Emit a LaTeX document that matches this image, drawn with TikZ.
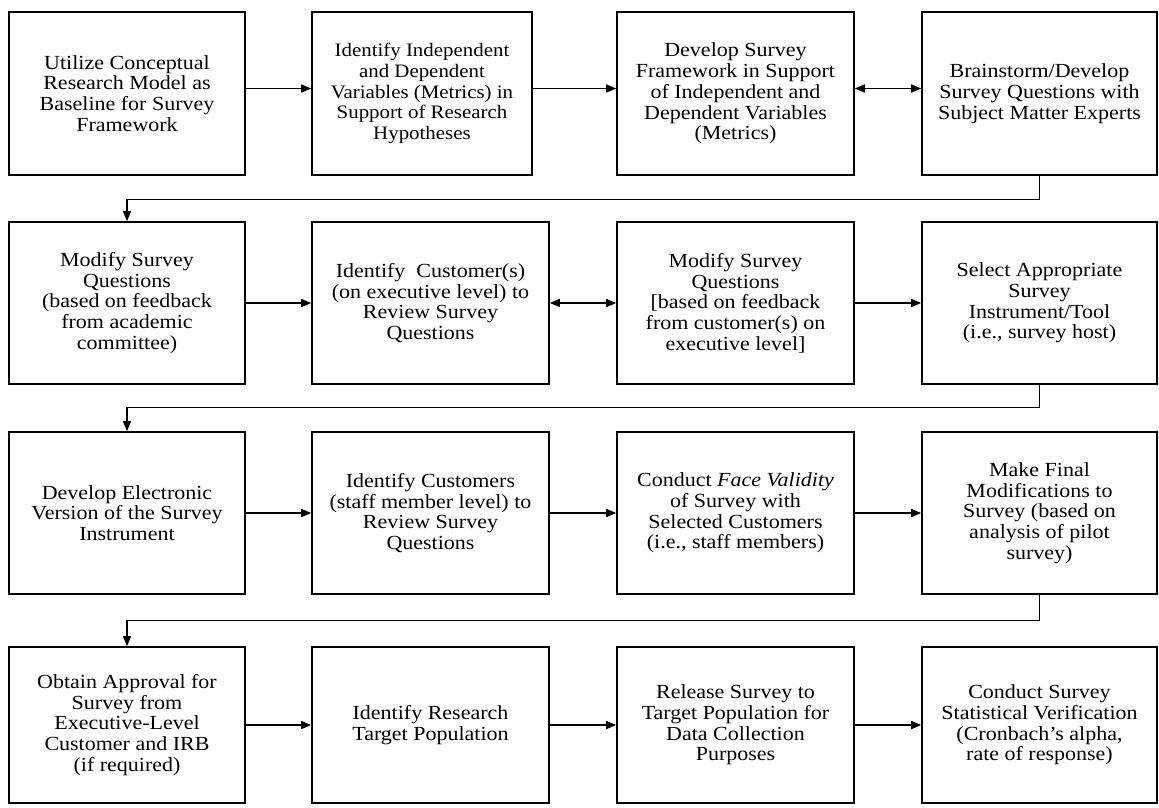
\documentclass[tikz,border=0pt]{standalone}
\usepackage{fontspec}
\setmainfont{Liberation Serif}[FakeStretch=1.1]
\usetikzlibrary{arrows.meta}
\begin{document}
\begin{tikzpicture}[x=1pt,y=-1pt,
  stepbox/.style={draw=black, line width=1.6pt, align=center, inner sep=2pt,
    font=\fontsize{20}{20.7}\selectfont},
  flow/.style={line width=1.5pt, -{Triangle[length=10pt,width=8pt]}},
  twoway/.style={line width=1.5pt, {Triangle[length=10pt,width=8pt]}-{Triangle[length=10pt,width=8pt]}},
  link/.style={line width=1.3pt, -{Triangle[length=10pt,width=8pt]}}]
\fill[white] (0,0) rectangle (1159,807);
\useasboundingbox (0,0) rectangle (1159,807);

% row 1
\node[stepbox, minimum width=236pt, minimum height=163pt] (b1) at (127,93.5)
  {Utilize Conceptual\\Research Model as\\Baseline for Survey\\Framework};
\node[stepbox, minimum width=220pt, minimum height=163pt,
      font=\fontsize{19}{20.7}\selectfont] (b2) at (422,93.5)
  {Identify Independent\\and Dependent\\Variables (Metrics) in\\Support of Research\\Hypotheses};
\node[stepbox, minimum width=237pt, minimum height=163pt] (b3) at (735.5,93.5)
  {Develop Survey\\Framework in Support\\of Independent and\\Dependent Variables\\(Metrics)};
\node[stepbox, minimum width=235pt, minimum height=163pt] (b4) at (1039.5,93.5)
  {Brainstorm/Develop\\Survey Questions with\\Subject Matter Experts};

% row 2
\node[stepbox, minimum width=236pt, minimum height=162pt] (b5) at (127,303)
  {Modify Survey\\Questions\\(based on feedback\\from academic\\committee)};
\node[stepbox, minimum width=237pt, minimum height=162pt] (b6) at (430.5,303)
  {Identify\ \ Customer(s)\\(on executive level) to\\Review Survey\\Questions};
\node[stepbox, minimum width=237pt, minimum height=162pt] (b7) at (735.5,303)
  {Modify Survey\\Questions\\{[}based on feedback\\from customer(s) on\\executive level]};
\node[stepbox, minimum width=235pt, minimum height=162pt] (b8) at (1039.5,303)
  {Select Appropriate\\Survey\\Instrument/Tool\\(i.e., survey host)};

% row 3
\node[stepbox, minimum width=236pt, minimum height=162pt] (b9) at (127,513)
  {Develop Electronic\\Version of the Survey\\Instrument};
\node[stepbox, minimum width=237pt, minimum height=162pt] (b10) at (430.5,513)
  {Identify Customers\\(staff member level) to\\Review Survey\\Questions};
\node[stepbox, minimum width=237pt, minimum height=162pt] (b11) at (735.5,513)
  {Conduct \textit{Face Validity}\\of Survey with\\Selected Customers\\(i.e., staff members)};
\node[stepbox, minimum width=235pt, minimum height=162pt] (b12) at (1039.5,513)
  {Make Final\\Modifications to\\Survey (based on\\analysis of pilot\\survey)};

% row 4
\node[stepbox, minimum width=236pt, minimum height=156pt] (b13) at (127,725)
  {Obtain Approval for\\Survey from\\Executive-Level\\Customer and IRB\\(if required)};
\node[stepbox, minimum width=237pt, minimum height=156pt] (b14) at (430.5,725)
  {Identify Research\\Target Population};
\node[stepbox, minimum width=237pt, minimum height=156pt] (b15) at (735.5,725)
  {Release Survey to\\Target Population for\\Data Collection\\Purposes};
\node[stepbox, minimum width=235pt, minimum height=156pt] (b16) at (1039.5,725)
  {Conduct Survey\\Statistical Verification\\(Cronbach's alpha,\\rate of response)};

% arrows within rows
\draw[flow] ([yshift=5pt]b1.east) -- ([yshift=5pt]b2.west);
\draw[flow] ([yshift=5pt]b2.east) -- ([yshift=5pt]b3.west);
\draw[twoway] ([yshift=5pt]b3.east) -- ([yshift=5pt]b4.west);
\draw[flow] (b5) -- (b6);
\draw[twoway] (b6) -- (b7);
\draw[flow] (b7) -- (b8);
\draw[flow] (b9) -- (b10);
\draw[flow] (b10) -- (b11);
\draw[flow] (b11) -- (b12);
\draw[flow] (b13) -- (b14);
\draw[flow] (b14) -- (b15);
\draw[flow] (b15) -- (b16);

% links from the end of one row to the start of the next
\draw[link] (b4.south) -- ++(0,24) -| (b5.north);
\draw[link] (b8.south) -- ++(0,23) -| (b9.north);
\draw[link] (b12.south) -- ++(0,26) -| (b13.north);
\end{tikzpicture}
\end{document}
